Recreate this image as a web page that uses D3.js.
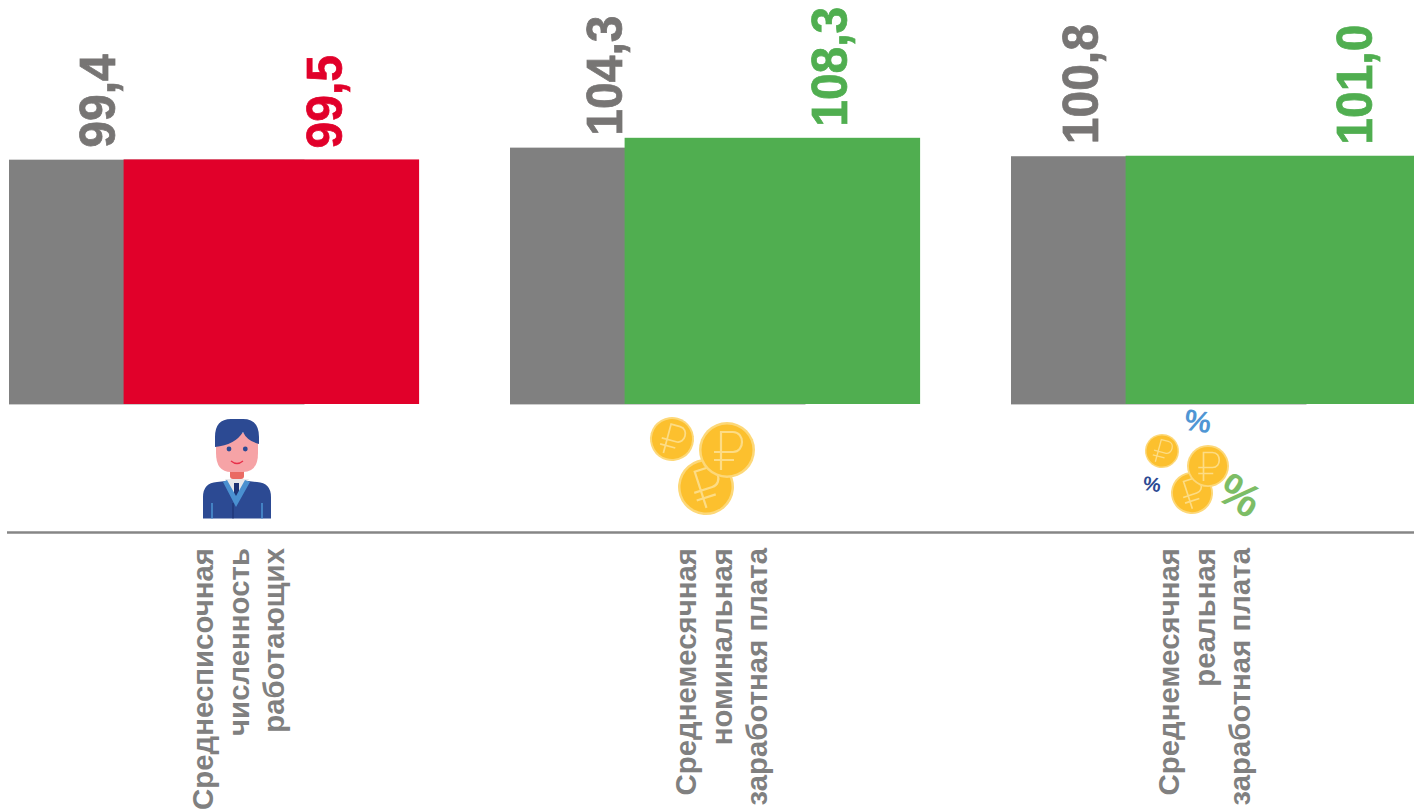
<!DOCTYPE html>
<html>
<head>
<meta charset="utf-8">
<script src="https://cdn.jsdelivr.net/npm/d3@7"></script>
<style>
  html, body { margin: 0; padding: 0; background: #fff; overflow: hidden; }
  svg { display: block; }
  text { font-family: "Liberation Sans", Arial, sans-serif; font-weight: bold; }
</style>
</head>
<body>
<svg id="chart" width="1414" height="809"></svg>
<script>
const categories = [
  ["Среднесписочная", "численность", "работающих"],
  ["Среднемесячная", "номинальная", "заработная плата"],
  ["Среднемесячная", "реальная", "заработная плата"],
];
const previousValues = [99.4, 104.3, 100.8];
const currentValues = [99.5, 108.3, 101.0];
const currentColors = ["#e1002a", "#50ae50", "#50ae50"];

const GRAY = "#808080";
const TEXT_GRAY = "#777574";
const baseY = 404;
const ids = d3.range(categories.length);

const svg = d3.select("#chart");

const x = d3.scaleBand().domain(ids).range([9, 1512]);
const y = d3.scaleLinear().domain([0, 100]).range([baseY, baseY - 245.8]);
const barW = 295.5;
const shift = 114.6;

const fmt = (v) => v.toFixed(1).replace(".", ",");

// gray bars sit under the coloured ones, they overlap
svg.append("g").selectAll("rect").data(ids).join("rect")
  .attr("x", (d) => x(d))
  .attr("y", (d) => y(previousValues[d]))
  .attr("width", barW)
  .attr("height", (d) => baseY - y(previousValues[d]) + 0.4)
  .attr("fill", GRAY);

svg.append("g").selectAll("rect").data(ids).join("rect")
  .attr("x", (d) => x(d) + shift)
  .attr("y", (d) => y(currentValues[d]))
  .attr("width", barW)
  .attr("height", (d) => baseY - y(currentValues[d]))
  .attr("fill", (d) => currentColors[d]);

// value labels, placed by hand per group like the original
const prevLabelDx = [106, 112, 87];
const currLabelDx = [333, 337, 361];
function valueLabel(sel, dxs, gap, values, color) {
  sel.selectAll("text").data(ids).join("text")
    .attr("transform", (d) => `translate(${x(d) + dxs[d]},${y(values[d]) - gap}) rotate(-90) scale(1,1.06)`)
    .attr("font-size", 48)
    .attr("fill", color)
    .attr("stroke", color)
    .attr("stroke-width", 0.7)
    .text((d) => fmt(values[d]));
}
valueLabel(svg.append("g"), prevLabelDx, 12, previousValues, TEXT_GRAY);
valueLabel(svg.append("g"), currLabelDx, 11, currentValues, (d) => currentColors[d]);

// axis line
svg.append("line")
  .attr("x1", 7).attr("x2", 1414)
  .attr("y1", 532.5).attr("y2", 532.5)
  .attr("stroke", "#868686")
  .attr("stroke-width", 2.5);

// category labels, three rotated lines ending at the same height under the axis
const catX = [203, 686, 1169];
const catLabels = svg.append("g").selectAll("g").data(ids).join("g")
  .attr("transform", (d) => `translate(${catX[d]},548) rotate(-90)`);
catLabels.selectAll("text").data((d) => categories[d]).join("text")
  .attr("x", 0)
  .attr("y", (d, i) => i * 35.5 + 10)
  .attr("text-anchor", "end")
  .attr("font-size", 29.4)
  .attr("fill", GRAY)
  .text((d) => d);

// icons
function coin(cx, cy, r, angle) {
  const g = svg.append("g").attr("transform", `translate(${cx},${cy}) rotate(${angle}) scale(${r / 28})`);
  g.append("circle").attr("r", 28).attr("fill", "#fdd878");
  g.append("circle").attr("r", 25.5).attr("fill", "#fcc02e");
  g.append("path")
    .attr("d", "M-6 20V-18H6C18 -18 18 2 6 2H-13M-13 10H7")
    .attr("fill", "none")
    .attr("stroke", "#fddc85")
    .attr("stroke-width", 2.2);
}
function percent(cx, cy, size, angle, color) {
  svg.append("text")
    .attr("transform", `translate(${cx},${cy}) rotate(${angle})`)
    .attr("text-anchor", "middle")
    .attr("dominant-baseline", "central")
    .attr("font-size", size)
    .attr("fill", color)
    .text("%");
}

function person(cx, top) {
  const g = svg.append("g").attr("transform", `translate(${cx},${top})`);
  // jacket
  g.append("path").attr("d", "M-34 99.5V78Q-34 64 -20 63L-11 62L0 74L11 62L20 63Q34 64 34 78V99.5Z").attr("fill", "#2c4a93");
  g.append("path").attr("d", "M-12 60H12L0 80Z").attr("fill", "#e8e8ea");
  g.append("path").attr("d", "M-3 64H2L2 76L-1 79L-3 76Z").attr("fill", "#1e3272");
  g.append("path").attr("d", "M-14 63L-10 61L-1 77L8 61L13 63L-1 88Z").attr("fill", "#4a90d0");
  g.append("path").attr("d", "M-25 84V99.5M25 84V99.5").attr("stroke", "#4a90d0").attr("stroke-width", 1.6);
  g.append("path").attr("d", "M-4 84V99.5").attr("stroke", "#1e3272").attr("stroke-width", 1.2);
  // neck
  g.append("rect").attr("x", -7).attr("y", 50).attr("width", 14).attr("height", 10).attr("rx", 3).attr("fill", "#ea6a63");
  // face
  g.append("path").attr("d", "M-21 14H21V34Q21 53 6 53H-6Q-21 53 -21 34Z").attr("fill", "#f6a3a6");
  // hair
  g.append("path").attr("d", "M-22 28V18Q-22 0 -6 0H6Q22 0 22 18V25Q10 22 6 13Q-2 26 -22 28Z").attr("fill", "#2c4a93");
  // eyes, mouth
  g.append("circle").attr("cx", -8).attr("cy", 30).attr("r", 2.4).attr("fill", "#2c4a93");
  g.append("circle").attr("cx", 8.3).attr("cy", 30).attr("r", 2.4).attr("fill", "#2c4a93");
  g.append("path").attr("d", "M-6 42Q0 47 6 42").attr("fill", "none").attr("stroke", "#e8304a").attr("stroke-width", 1.3);
}

person(237, 419);

coin(672, 439, 22, 15);
coin(706, 487, 28, -18);
coin(727, 450, 28, 0);

percent(1198, 421, 30, 8, "#4f96d4");
percent(1152, 484, 20, 8, "#2c4a93");
percent(1240, 495, 46, 32, "#7dbd66");
coin(1162, 451, 17, 15);
coin(1192, 493, 21, -18);
coin(1208, 466, 21, 0);
</script>
</body>
</html>
